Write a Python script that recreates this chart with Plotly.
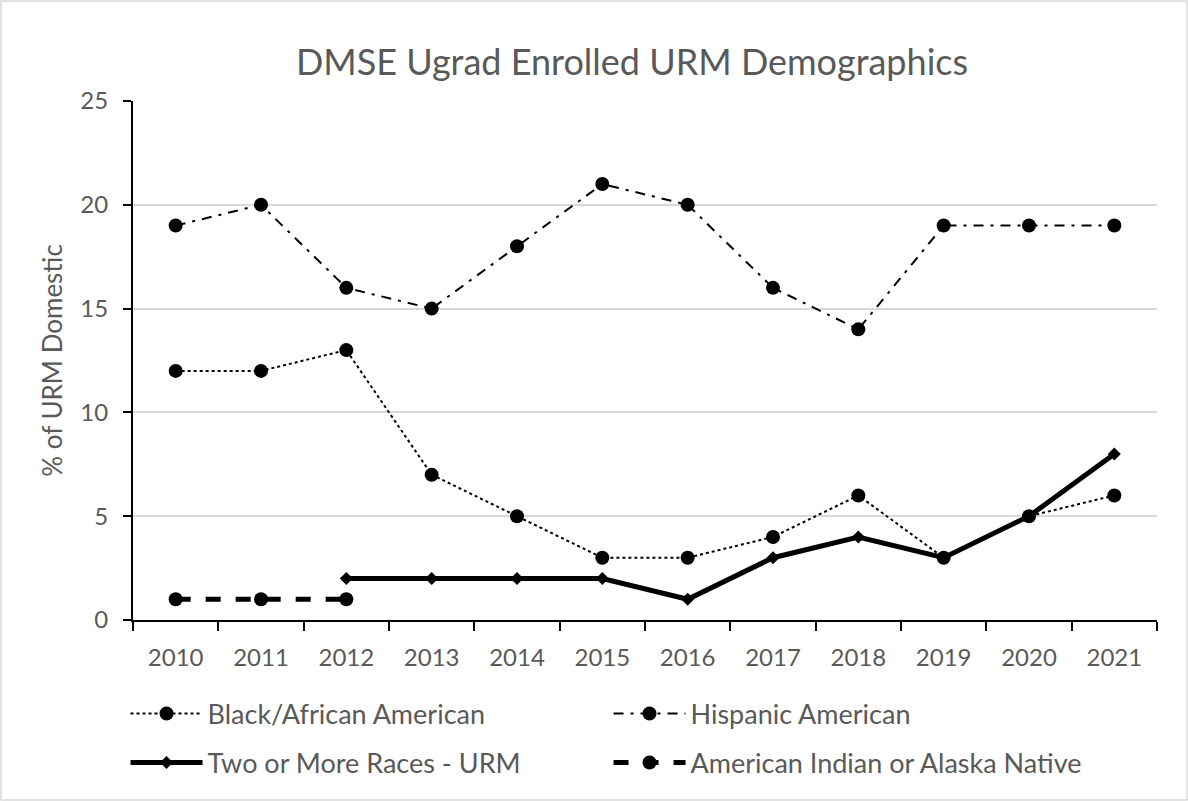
import plotly.graph_objects as go

years = ["2010", "2011", "2012", "2013", "2014", "2015", "2016", "2017", "2018", "2019", "2020", "2021"]
black = [12, 12, 13, 7, 5, 3, 3, 4, 6, 3, 5, 6]
hispanic = [19, 20, 16, 15, 18, 21, 20, 16, 14, 19, 19, 19]
two_or_more = [None, None, 2, 2, 2, 2, 1, 3, 4, 3, 5, 8]
am_indian = [1, 1, 1, None, None, None, None, None, None, None, None, None]

W, H = 1188, 801
L, R, T, B = 133, 31, 101, 181
pw, ph = W - L - R, H - T - B
GRAY = "#595959"

fig = go.Figure()
fig.add_trace(go.Scatter(x=years, y=black, name="Black/African American", mode="lines+markers",
                         line=dict(color="black", width=2, dash="dot"),
                         marker=dict(symbol="circle", size=14, color="black"), legend="legend"))
fig.add_trace(go.Scatter(x=years, y=hispanic, name="Hispanic American", mode="lines+markers",
                         line=dict(color="black", width=2, dash="10px,7px,3px,7px"),
                         marker=dict(symbol="circle", size=14, color="black"), legend="legend"))
fig.add_trace(go.Scatter(x=years, y=two_or_more, name="Two or More Races - URM", mode="lines+markers",
                         line=dict(color="black", width=5),
                         marker=dict(symbol="diamond", size=10, color="black"), legend="legend2"))
fig.add_trace(go.Scatter(x=years, y=am_indian, name="American Indian or Alaska Native", mode="lines+markers",
                         line=dict(color="black", width=5, dash="dash"),
                         marker=dict(symbol="circle", size=14, color="black"), legend="legend2"))

leg_common = dict(orientation="h", x=-0.0073, xanchor="left", yanchor="middle",
                  entrywidth=396, itemwidth=72, font=dict(size=27, color=GRAY),
                  traceorder="normal", bgcolor="rgba(0,0,0,0)")

fig.update_layout(
    width=W, height=H,
    margin=dict(l=L, r=R, t=T, b=B),
    paper_bgcolor="white", plot_bgcolor="white",
    font=dict(family="Lato", color=GRAY, size=24),
    title=dict(text="DMSE Ugrad Enrolled URM Demographics", xref="paper", x=(632 - L) / pw, xanchor="center",
               y=1 - 62 / H, yanchor="middle", font=dict(size=36, color=GRAY)),
    showlegend=True,
    legend=dict(y=(620 - 714) / ph, **leg_common),
    legend2=dict(y=(620 - 763) / ph, **leg_common),
    shapes=[dict(type="rect", xref="paper", yref="paper",
                 x0=-(L - 1) / pw, x1=1 + (R - 1) / pw, y0=-(B - 1) / ph, y1=1 + (T - 1) / ph,
                 line=dict(color="#d9d9d9", width=1.5))],
)
fig.update_xaxes(type="category", range=[-0.5, 11.5], showline=True, linecolor="black", linewidth=2,
                 ticks="outside", ticklen=9, tickwidth=2, tickcolor="black", ticklabelstandoff=15,
                 tickson="boundaries", showgrid=False, tickfont=dict(size=24, color=GRAY))
fig.update_yaxes(range=[0, 25], dtick=5, showline=True, linecolor="black", linewidth=2,
                 ticks="outside", ticklen=8, tickwidth=2, tickcolor="black", ticklabelstandoff=10,
                 showgrid=True, gridcolor="#d9d9d9", gridwidth=1.5, zeroline=False,
                 title=dict(text="% of URM Domestic", font=dict(size=26, color=GRAY), standoff=10),
                 tickfont=dict(size=24, color=GRAY))

fig.write_html("out.html", config={"displayModeBar": False},
               post_script="document.body.style.margin='0';")
